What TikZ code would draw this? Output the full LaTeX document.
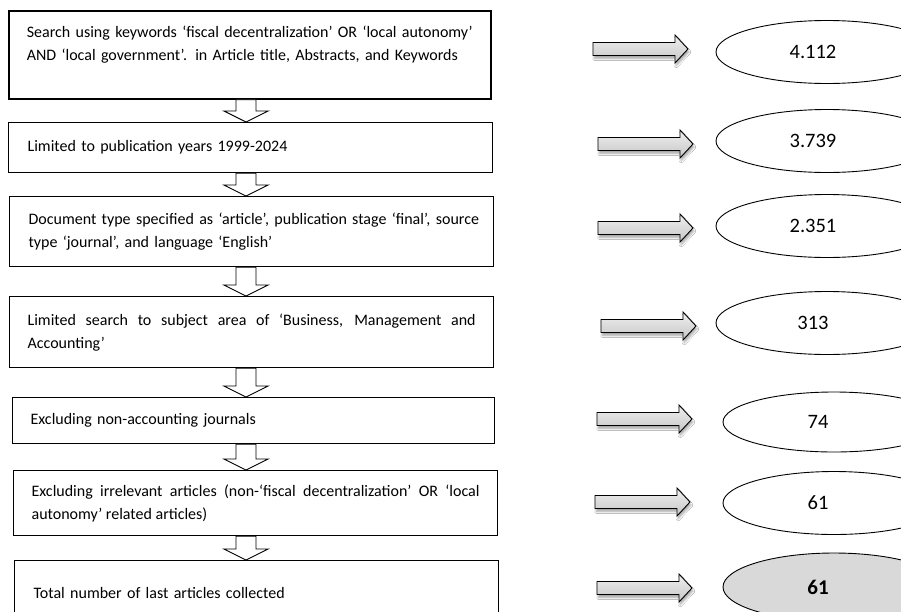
\documentclass[tikz,border=0pt]{standalone}
\usepackage{fontspec}
\setmainfont{Carlito}
\usetikzlibrary{shapes.geometric,shadows.blur,calc}
\tikzset{
  stepbox/.style={draw, line width=1.2pt, rectangle, anchor=north west,
    inner xsep=18pt, inner ysep=0pt, font=\fontsize{16}{23}\selectfont},
  countell/.style={draw, ellipse, line width=0.9pt, minimum width=222pt,
    minimum height=63pt, inner sep=0pt, font=\fontsize{20.5}{22}\selectfont},
  blockarr/.style={draw, line width=0.9pt, top color=gray!12, bottom color=gray!45,
    blur shadow={shadow xshift=1pt, shadow yshift=-3pt, shadow blur steps=6, shadow opacity=35}},
  downarr/.style={draw, line width=0.9pt, fill=white},
}
\newcommand\dnarrow[2]{\draw[downarr] let \p1=(#1.south), \p2=(#2.north) in
  (236pt,\y1) -- (256pt,\y1) -- (256pt,\y2+11pt) -- (268pt,\y2+11pt) -- (246pt,\y2)
  -- (224pt,\y2+11pt) -- (236pt,\y2+11pt) -- cycle;}
\newcommand\rtarrow[3]{\coordinate (#1) at (#2,#3);
  \draw[blockarr] (#1) ++(0,-6.5) -- ++(82,0) -- ++(0,-7.5) -- ++(13,14)
  -- ++(-13,14) -- ++(0,-7.5) -- ++(-82,0) -- cycle;}
\begin{document}
\begin{tikzpicture}[x=1pt,y=-1pt]
\clip (0,0) rectangle (901,611);
\fill[white] (0,0) rectangle (901,611);

% process boxes
\node[stepbox, line width=1.7pt, minimum width=482pt, minimum height=88pt, text width=446pt, align=left] (b1) at (8,10)
  {\mbox{Search using keywords ‘fiscal decentralization’ OR ‘local autonomy’}\\\mbox{AND ‘local government’. in Article title, Abstracts, and Keywords}\\\mbox{}};
\node[stepbox, minimum width=484pt, minimum height=50pt, text width=446pt, align=left] (b2) at (8,122)
  {Limited to publication years 1999-2024};
\node[stepbox, minimum width=484pt, minimum height=70pt, text width=446pt, align=left] (b3) at (9,196)
  {\mbox{Document type specified as ‘article’, publication stage ‘final’, source}\\\mbox{type ‘journal’, and language ‘English’}};
\node[stepbox, minimum width=484pt, minimum height=71pt, text width=448pt, align=justify] (b4) at (9,296)
  {Limited search to subject area of ‘Business, Management and\linebreak Accounting’};
\node[stepbox, minimum width=482pt, minimum height=46pt, text width=446pt, align=left] (b5) at (12,397)
  {Excluding non-accounting journals};
\node[stepbox, minimum width=484pt, minimum height=65pt, text width=448pt, align=justify] (b6) at (13,470)
  {Excluding irrelevant articles (non-‘fiscal decentralization’ OR ‘local\linebreak autonomy’ related articles)};
\node[stepbox, minimum width=484pt, minimum height=65pt, text width=446pt, align=left] (b7) at (14,560)
  {Total number of last articles collected};

% down arrows
\dnarrow{b1}{b2}
\dnarrow{b2}{b3}
\dnarrow{b3}{b4}
\dnarrow{b4}{b5}
\dnarrow{b5}{b6}
\dnarrow{b6}{b7}

% count ellipses
\node[countell] (e1) at (827,52) {\hspace*{-28pt}4.112};
\node[countell] (e2) at (827,141) {\hspace*{-28pt}3.739};
\node[countell] (e3) at (827,226) {\hspace*{-28pt}2.351};
\node[countell] (e4) at (827,323) {\hspace*{-28pt}313};
\node[countell, minimum height=60pt] (e5) at (834,422) {\hspace*{-32pt}74};
\node[countell] (e6) at (834,503) {\hspace*{-32pt}61};
\node[countell, fill=gray!30, minimum height=68pt, font=\fontsize{21}{22}\selectfont\bfseries] (e7) at (834,587) {\hspace*{-32pt}61};

% horizontal arrows
\rtarrow{a1}{593}{49}
\rtarrow{a2}{598}{144}
\rtarrow{a3}{598}{228}
\rtarrow{a4}{601}{326}
\rtarrow{a5}{597}{419}
\rtarrow{a6}{595}{502}
\rtarrow{a7}{597}{588}
\end{tikzpicture}
\end{document}
